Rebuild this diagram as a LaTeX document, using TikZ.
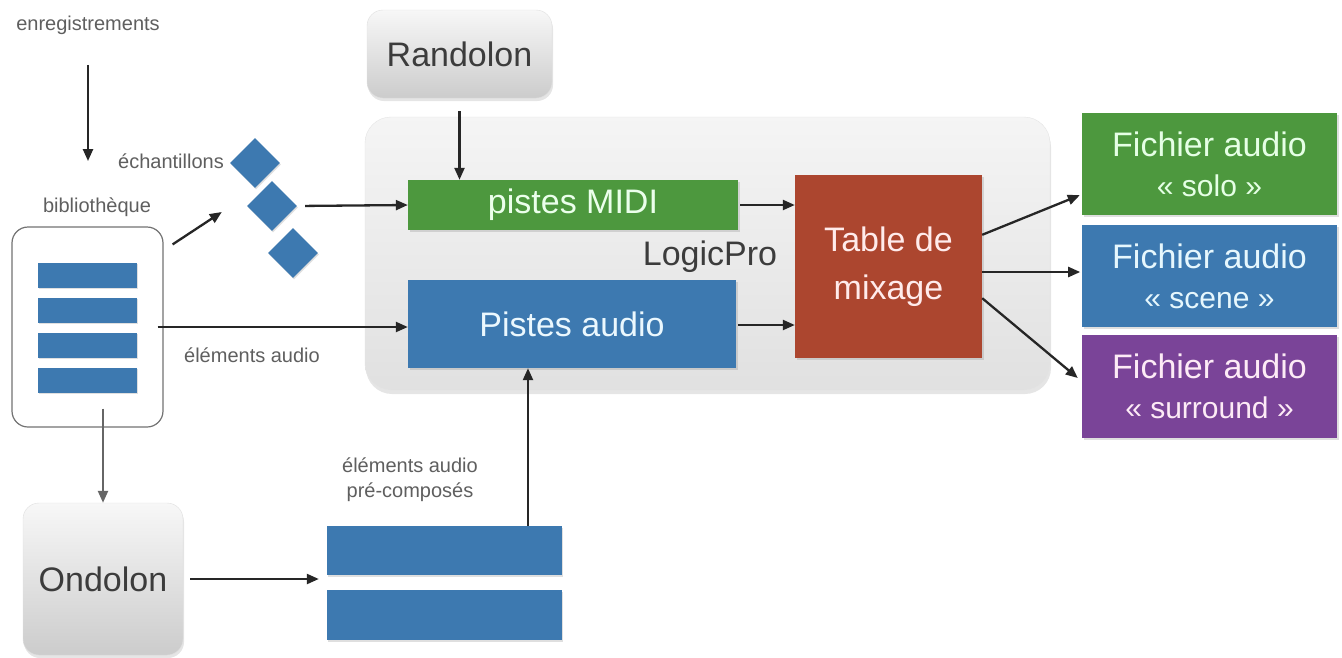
\documentclass[tikz,border=0pt]{standalone}
\usepackage{fontspec}
\setmainfont{Liberation Sans}
\usetikzlibrary{arrows.meta,shapes.geometric,shadows,calc}
\definecolor{cgreen}{RGB}{77,152,62}
\definecolor{cblue}{RGB}{61,121,176}
\definecolor{cred}{RGB}{172,70,47}
\definecolor{cpurple}{RGB}{122,68,152}
\definecolor{ctext}{RGB}{60,60,60}
\definecolor{csmall}{RGB}{95,95,95}
\begin{document}
\begin{tikzpicture}[x=1pt,y=-1pt,
  arr/.style={-{Triangle[length=12pt,width=10pt]},line width=2.3pt,draw=black!85},
  garr/.style={-{Triangle[length=12pt,width=10pt]},line width=2.3pt,draw=black!60},
  small/.style={text=csmall,font=\fontsize{20}{25}\selectfont,align=center},
  big/.style={font=\fontsize{34}{40}\selectfont,align=center},
  bar/.style={fill=cblue,draw=none,inner sep=0pt,drop shadow={opacity=0.25,shadow xshift=1pt,shadow yshift=-1.5pt}},
  colbox/.style={draw=none,inner sep=0pt,big,drop shadow={opacity=0.25,shadow xshift=1.5pt,shadow yshift=-2pt}},
  graybox/.style={rounded corners=16pt,draw=black!12,top color=black!3,bottom color=black!20,inner sep=0pt,big,text=ctext,drop shadow={opacity=0.2,shadow xshift=1pt,shadow yshift=-3pt}},
  dia/.style={diamond,fill=cblue,draw=none,minimum width=50pt,minimum height=50pt,inner sep=0pt,drop shadow={opacity=0.25,shadow xshift=1pt,shadow yshift=-1.5pt}}
]
\useasboundingbox (0,0) rectangle (1342,657);
\fill[white] (0,0) rectangle (1342,657);

% LogicPro container
\node[rounded corners=26pt,draw=black!10,top color=black!4,bottom color=black!12,minimum width=685pt,minimum height=273pt,inner sep=0pt,drop shadow={opacity=0.2,shadow xshift=1pt,shadow yshift=-4pt}] (logic) at (707.5,253.5) {};
\node[big,text=ctext] (logiclbl) at (710,257) {LogicPro};

% left side
\node[small] (enr) at (88,25) {enregistrements};
\node[small] (bib) at (97,207) {biblioth\`eque};
\node[rounded corners=16pt,draw=black!55,line width=1.2pt,fill=white,minimum width=151pt,minimum height=200pt,inner sep=0pt] (lib) at (87.5,327) {};
\node[bar,minimum width=99pt,minimum height=25pt] (b1) at (87.5,275) {};
\node[bar,minimum width=99pt,minimum height=25pt] (b2) at (87.5,310) {};
\node[bar,minimum width=99pt,minimum height=25pt] (b3) at (87.5,345) {};
\node[bar,minimum width=99pt,minimum height=25pt] (b4) at (87.5,380) {};

\node[small] (ech) at (171,161) {\'echantillons};
\node[dia] (d1) at (255,163) {};
\node[dia] (d2) at (272,206) {};
\node[dia] (d3) at (293,253) {};

\node[small] (elaud) at (252,355) {\'el\'ements audio};

\node[graybox,minimum width=160pt,minimum height=152pt] (ond) at (103,579) {Ondolon};
\node[graybox,minimum width=185pt,minimum height=88pt] (ran) at (459.5,54) {Randolon};

\node[small] (pclbl) at (410,480) {\'el\'ements audio\\pr\'e-compos\'es};
\node[bar,minimum width=235pt,minimum height=49pt] (pc1) at (444.5,550.5) {};
\node[bar,minimum width=235pt,minimum height=50pt] (pc2) at (444.5,615) {};

% inside LogicPro
\node[colbox,fill=cgreen,text=green!8!white,minimum width=330pt,minimum height=50pt] (midi) at (573,205) {pistes MIDI};
\node[colbox,fill=cblue,text=cyan!8!white,minimum width=328pt,minimum height=88pt] (paudio) at (572,324) {Pistes audio};
\node[colbox,fill=cred,text=red!8!white,minimum width=187pt,minimum height=183pt,font=\fontsize{34}{48}\selectfont] (table) at (888.5,266.5) {Table de\\mixage};

% outputs
\node[colbox,fill=cgreen,text=green!10!white,minimum width=255pt,minimum height=102pt] (solo) at (1209.5,164) {Fichier audio\\{\fontsize{30}{36}\selectfont\guillemotleft{} solo \guillemotright}};
\node[colbox,fill=cblue,text=cyan!10!white,minimum width=255pt,minimum height=102pt] (scene) at (1209.5,276) {Fichier audio\\{\fontsize{30}{36}\selectfont\guillemotleft{} scene \guillemotright}};
\node[colbox,fill=cpurple,text=magenta!8!white,minimum width=255pt,minimum height=103pt] (surround) at (1209.5,386.5) {Fichier audio\\{\fontsize{30}{36}\selectfont\guillemotleft{} surround \guillemotright}};

% connectors
\draw[arr,shorten <=27pt,shorten >=33pt] (enr.south) -- (enr.south |- bib.north);
\draw[arr] ($(lib.north east)+(9,18)$) -- ($(d2.west)+(-25,6)$);
\draw[arr,shorten <=8pt] (d2.east) -- (midi.west);
\draw[arr,shorten <=-6pt] (lib.east) -- (lib.east -| paudio.west);
\draw[garr] ([xshift=15.5pt,yshift=19pt]lib.south) -- ([xshift=15.5pt]lib.south |- ond.north);
\draw[arr,shorten <=7pt,shorten >=8pt] (ond.east) -- (ond.east -| pc1.west);
\draw[arr] ([xshift=83.5pt]pc1.north) -- ([xshift=83.5pt]pc1.north |- paudio.south);
\draw[arr] ([yshift=-13pt]ran.south) -- (ran.south |- midi.north);
\draw[arr,shorten <=2pt] (midi.east) -- (midi.east -| table.west);
\draw[arr,shorten <=2pt] ([yshift=-1pt]paudio.east) -- ([yshift=-1pt]paudio.east -| table.west);
\draw[arr] ($(table.north east)+(0,60)$) -- ($(solo.south west)+(-2,-20)$);
\draw[arr] ($(table.east)+(0,5.5)$) -- ($(table.east)+(98,5.5)$);
\draw[arr] ($(table.south east)+(0,-60)$) -- ($(surround.west)+(-4,-8.5)$);
\end{tikzpicture}
\end{document}
